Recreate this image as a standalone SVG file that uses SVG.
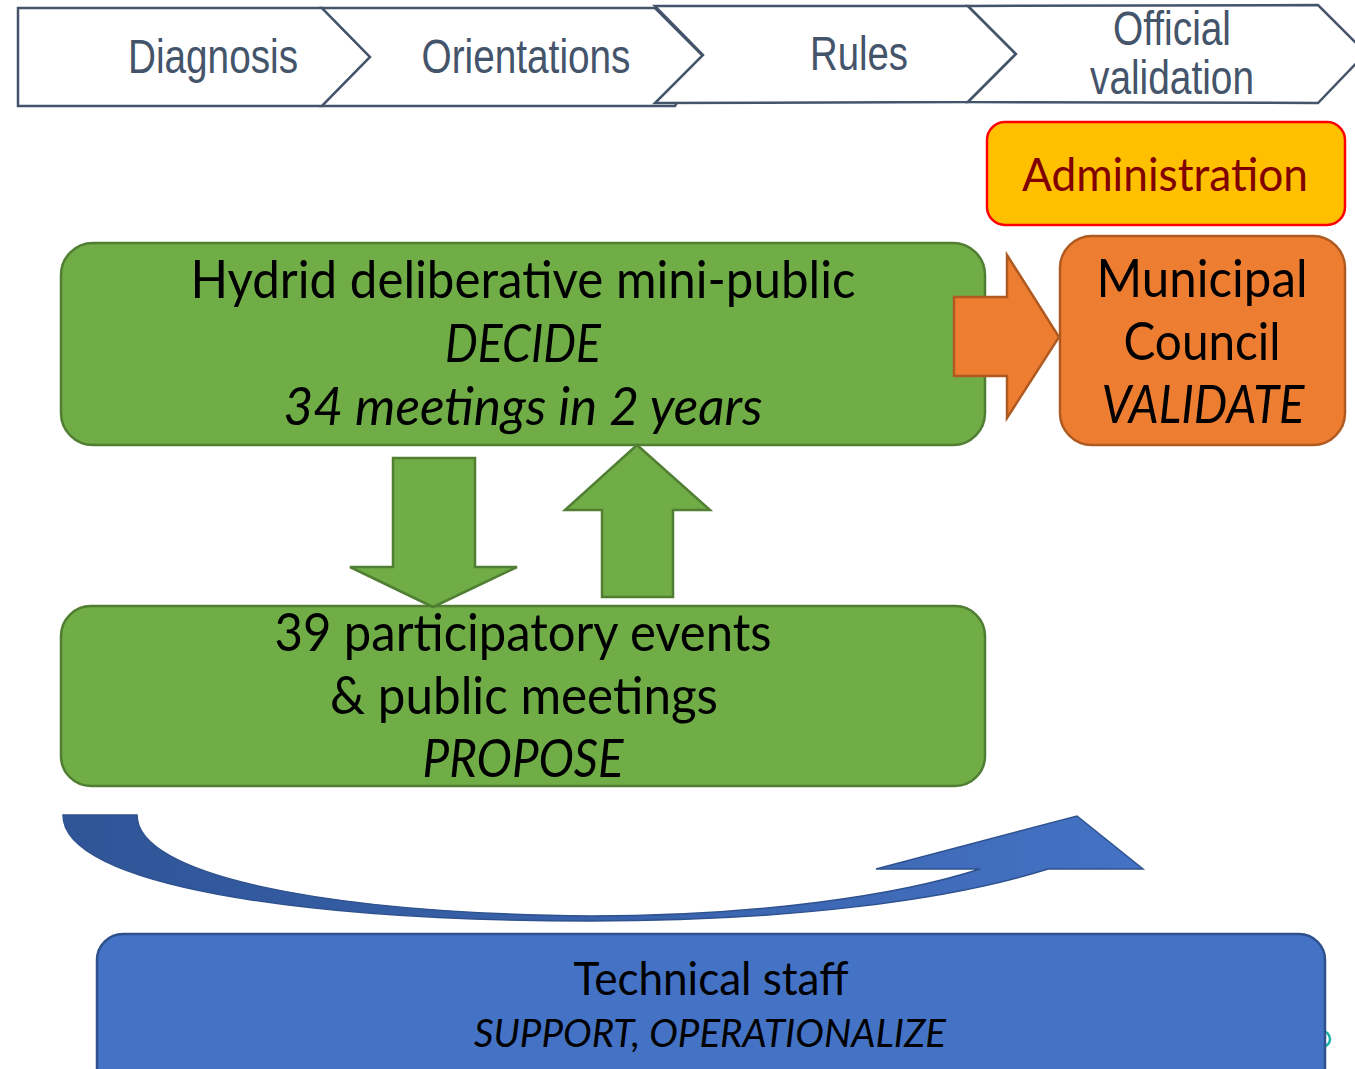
<svg xmlns="http://www.w3.org/2000/svg" width="1355" height="1069" viewBox="0 0 1355 1069">
<style>
.chev{fill:#fff;stroke:#44546A;stroke-width:2.5}
.ct{font-family:"Liberation Sans Narrow","Liberation Sans",Arial,sans-serif;font-size:48px;fill:#44546A;text-anchor:middle}
.t{font-family:Lato,"Open Sans",sans-serif;fill:#000;text-anchor:middle}
.i{font-style:italic}
.green{fill:#70AD47;stroke:#507E32;stroke-width:2.5}
.orange{fill:#ED7D31;stroke:#AE5A21;stroke-width:2.5}
</style>
<defs>
<linearGradient id="bg" x1="0" y1="0" x2="1" y2="0">
<stop offset="0" stop-color="#2F5597"/>
<stop offset="0.6" stop-color="#3B65B0"/>
<stop offset="1" stop-color="#4472C4"/>
</linearGradient>
</defs>
<rect width="1355" height="1069" fill="#fff"/>

<g id="steps">
<g id="step-diagnosis">
<path class="chev" d="M18,8 L322,8 L370,57 L322,106 L18,106 Z"/>
<text class="ct" x="213" y="73" textLength="170" lengthAdjust="spacingAndGlyphs">Diagnosis</text>
</g>
<g id="step-orientations">
<path class="chev" d="M322,8 L655,8 L703,56 L675,106 L322,106 L370,57 Z"/>
<text class="ct" x="526" y="73" textLength="209" lengthAdjust="spacingAndGlyphs">Orientations</text>
</g>
<g id="step-rules">
<path class="chev" d="M655,6 L968,6 L1016,54 L968,102 L655,103 L703,55 Z"/>
<text class="ct" x="859" y="70" textLength="98" lengthAdjust="spacingAndGlyphs">Rules</text>
</g>
<g id="step-validation">
<path class="chev" d="M968,6 L1318,5 L1366,53 L1318,103 L968,102 L1016,54 Z"/>
<text class="ct" x="1172" y="45" textLength="118" lengthAdjust="spacingAndGlyphs">Official</text>
<text class="ct" x="1172" y="94" textLength="164" lengthAdjust="spacingAndGlyphs">validation</text>
</g>
</g>

<g id="administration">
<rect x="987" y="122" width="358" height="103" rx="18" fill="#FFC000" stroke="#FF0000" stroke-width="2.5"/>
<text class="t" x="1165" y="191" font-size="47" style="fill:#800000" textLength="286" lengthAdjust="spacingAndGlyphs">Administration</text>
</g>

<g id="teal-mark">
<circle cx="1322" cy="1039" r="8" fill="none" stroke="#1BB0A5" stroke-width="2.5"/>
</g>

<g id="mini-public">
<rect class="green" x="61" y="243" width="924" height="202" rx="32"/>
<text class="t" x="523" y="298" font-size="52" textLength="665" lengthAdjust="spacingAndGlyphs">Hydrid deliberative mini-public</text>
<text class="t i" x="523" y="362" font-size="52" textLength="156" lengthAdjust="spacingAndGlyphs">DECIDE</text>
<text class="t i" x="523" y="425" font-size="52" textLength="479" lengthAdjust="spacingAndGlyphs">34 meetings in 2 years</text>
</g>

<g id="municipal-council">
<rect class="orange" x="1060" y="236" width="285" height="209" rx="32"/>
<text class="t" x="1202" y="297" font-size="52" textLength="211" lengthAdjust="spacingAndGlyphs">Municipal</text>
<text class="t" x="1202" y="360" font-size="52" textLength="157" lengthAdjust="spacingAndGlyphs">Council</text>
<text class="t i" x="1203" y="423" font-size="52" textLength="203" lengthAdjust="spacingAndGlyphs">VALIDATE</text>
</g>

<g id="participatory-events">
<rect class="green" x="61" y="606" width="924" height="180" rx="30"/>
<text class="t" x="523" y="651" font-size="52" textLength="497" lengthAdjust="spacingAndGlyphs">39 participatory events</text>
<text class="t" x="524" y="714" font-size="52" textLength="388" lengthAdjust="spacingAndGlyphs">&amp; public meetings</text>
<text class="t i" x="523" y="777" font-size="52" textLength="201" lengthAdjust="spacingAndGlyphs">PROPOSE</text>
</g>

<g id="technical-staff">
<rect x="97" y="934" width="1228" height="160" rx="26" fill="#4472C4" stroke="#2F528F" stroke-width="2.5"/>
<text class="t" x="711" y="995" font-size="46" textLength="275" lengthAdjust="spacingAndGlyphs">Technical staff</text>
<text class="t i" x="710" y="1047" font-size="38" textLength="472" lengthAdjust="spacingAndGlyphs">SUPPORT, OPERATIONALIZE</text>
</g>

<g id="connectors">
<polygon id="arrow-validate" class="orange" points="954,297 1007,297 1007,255 1059,337 1007,418 1007,376 954,376"/>
<polygon id="arrow-down" class="green" points="393,458 475,458 475,567 517,567 433,607 350,567 393,567"/>
<polygon id="arrow-up" class="green" points="637,445 710,510 673,510 673,597 602,597 602,510 565,510"/>
<path id="arrow-support" fill="url(#bg)" stroke="#2F528F" stroke-width="1.5" d="M63,815 L137,815 C137,875 320,913 590,916 C760,916 900,895 980,869 L876,869 L1077,816 L1143,869 L1048,869 C950,900 790,921 590,921 C300,921 63,885 63,815 Z"/>
</g>
</svg>
